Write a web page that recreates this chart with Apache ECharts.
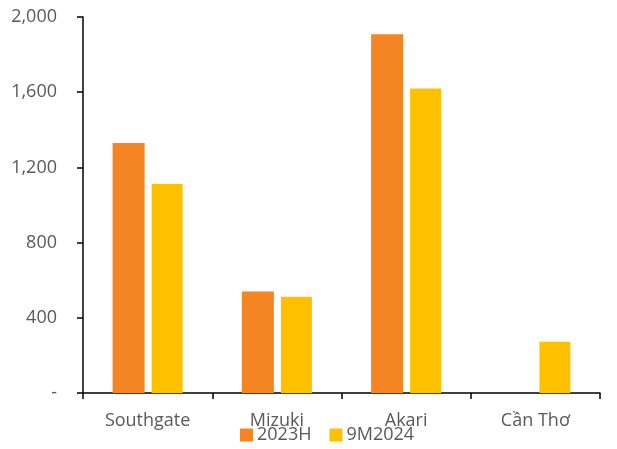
<!DOCTYPE html>
<html><head><meta charset="utf-8">
<script src="https://cdn.jsdelivr.net/npm/echarts@6/dist/echarts.min.js"></script>
<style>html,body{margin:0;padding:0;background:#fff}#c{width:617px;height:449px}</style>
</head><body><div id="c"></div>
<script>
var categories = ['Southgate', 'Mizuki', 'Akari', 'Cần Thơ'];
var seriesNames = ['2023H', '9M2024'];
var values2023H = [1330, 540, 1908, null];
var values9M2024 = [1112, 512, 1620, 272];
var colors = ['#F58423', '#FFC000'];

var chart = echarts.init(document.getElementById('c'));
var font = '"Open Sans", "Noto Sans", sans-serif';
chart.setOption({
  animation: false,
  textStyle: {fontFamily: font},
  grid: {left: 83, right: 17, top: 17, bottom: 56},
  legend: {
    bottom: 0, left: 235,
    itemWidth: 13, itemHeight: 13, itemGap: 18,
    icon: 'rect',
    textStyle: {fontFamily: font, fontSize: 18, color: '#595959', padding: [0,0,0,-1]},
    data: seriesNames
  },
  xAxis: {
    type: 'category', data: categories,
    axisLine: {lineStyle: {color: '#000', width: 1.5}},
    axisTick: {show: true, length: 6, lineStyle: {color: '#000', width: 1.5}},
    axisLabel: {fontFamily: font, fontSize: 18, color: '#595959', margin: 19}
  },
  yAxis: {
    type: 'value', min: 0, max: 2000, interval: 400,
    axisLine: {show: true, lineStyle: {color: '#000', width: 1.5}},
    axisTick: {show: true, length: 6, lineStyle: {color: '#000', width: 1.5}},
    splitLine: {show: false},
    axisLabel: {fontFamily: font, fontSize: 18, color: '#595959', margin: 26,
      formatter: function(v){ return v === 0 ? '-' : v.toLocaleString('en-US'); }}
  },
  series: [
    {name: seriesNames[0], type: 'bar', data: values2023H, barWidth: 32, barGap: '22%', itemStyle: {color: colors[0]}},
    {name: seriesNames[1], type: 'bar', data: values9M2024, barWidth: 31, itemStyle: {color: colors[1]}}
  ]
});
</script></body></html>
